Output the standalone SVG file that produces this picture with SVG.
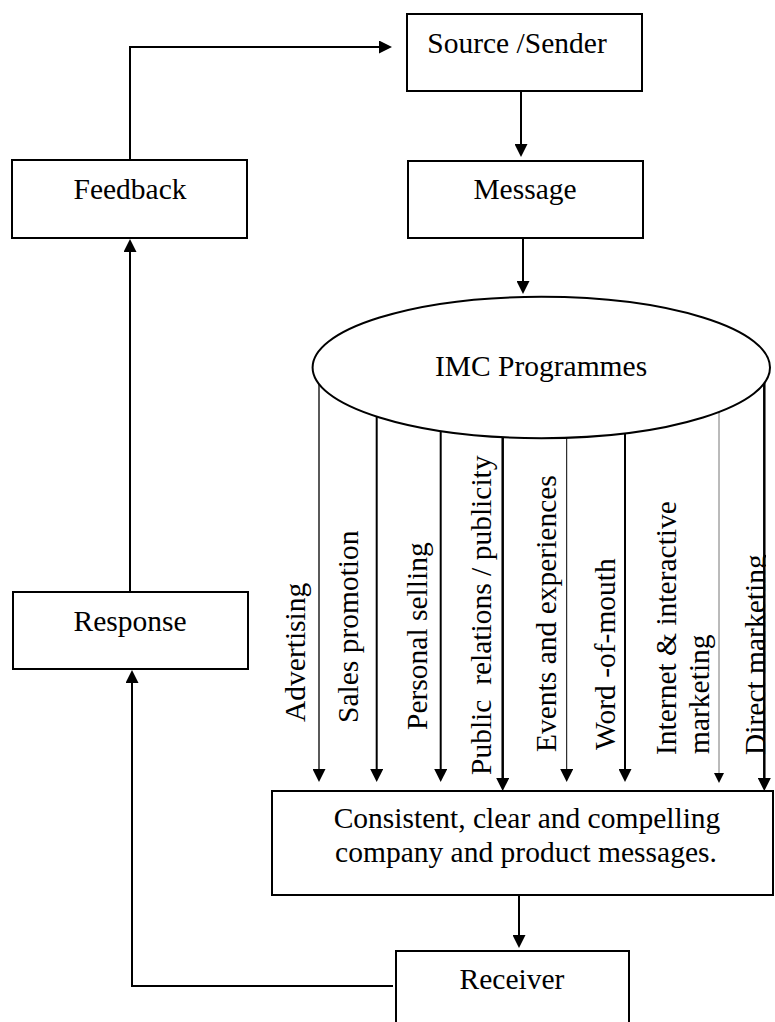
<svg xmlns="http://www.w3.org/2000/svg" width="775" height="1022" viewBox="0 0 775 1022">
<style>
.box{fill:#fff;stroke:#000;stroke-width:2}
.t{font-family:"Liberation Serif","Times New Roman",serif;font-size:29.5px;fill:#000}
.c{text-anchor:middle}
.ln{fill:none;stroke:#000;stroke-width:2}
</style>
<defs>
<marker id="ah" viewBox="0 0 13 13" refX="9" refY="6.5" markerWidth="13" markerHeight="13" markerUnits="userSpaceOnUse" orient="auto"><path d="M0,0 L13,6.5 L0,13 z" fill="#000"/></marker>
<marker id="ahs" viewBox="0 0 10 10" refX="7" refY="5" markerWidth="10" markerHeight="10" markerUnits="userSpaceOnUse" orient="auto"><path d="M0,0 L10,5 L0,10 z" fill="#000"/></marker>
<clipPath id="clipDM"><rect x="700" y="500" width="66" height="300"/></clipPath>
</defs>
<rect width="775" height="1022" fill="#fff"/>
<g id="connectors">
<path class="ln" d="M130,160 V47 H388" marker-end="url(#ah)"/>
<path class="ln" d="M521,91 V153" marker-end="url(#ah)"/>
<path class="ln" d="M523,238 V290" marker-end="url(#ah)"/>
<path class="ln" d="M130,592 V243" marker-end="url(#ah)"/>
<path class="ln" d="M393,986 H132 V674" marker-end="url(#ah)"/>
<path class="ln" d="M519,895 V944" marker-end="url(#ah)"/>
<path class="ln" style="stroke-width:1.3" d="M319,384 V778" marker-end="url(#ah)"/>
<path class="ln" d="M376.7,416.6 V778" marker-end="url(#ah)"/>
<path class="ln" d="M440.7,431 V778" marker-end="url(#ah)"/>
<path class="ln" style="stroke-width:2.5" d="M502.7,437 V787" marker-end="url(#ah)"/>
<path class="ln" style="stroke-width:1" d="M566.7,437.5 V778" marker-end="url(#ah)"/>
<path class="ln" d="M625,433 V778" marker-end="url(#ah)"/>
<path class="ln" style="stroke-width:1;stroke:#777" d="M719,412 V780" marker-end="url(#ahs)"/>
<path class="ln" style="stroke-width:2.5" d="M764.3,383 V787" marker-end="url(#ah)"/>
</g>
<g id="source"><rect class="box" x="407" y="14" width="235" height="77"/><text class="t c" x="517" y="53">Source /Sender</text></g>
<g id="message"><rect class="box" x="408" y="161" width="235" height="77"/><text class="t c" x="525" y="199">Message</text></g>
<g id="feedback"><rect class="box" x="12" y="160" width="235" height="78"/><text class="t c" x="130" y="199">Feedback</text></g>
<g id="imc"><ellipse cx="541.3" cy="367.5" rx="228.7" ry="70.7" fill="#fff" stroke="#000" stroke-width="2"/><text class="t c" x="541" y="376">IMC Programmes</text></g>
<g id="response"><rect class="box" x="13" y="592" width="235" height="77"/><text class="t c" x="130" y="631">Response</text></g>
<g id="labels">
<text class="t" transform="translate(305,722) rotate(-90)">Advertising</text>
<text class="t" transform="translate(358,723) rotate(-90)">Sales promotion</text>
<text class="t" transform="translate(427,730) rotate(-90)">Personal selling</text>
<text class="t" style="white-space:pre" transform="translate(491,775) rotate(-90)">Public  relations / publicity</text>
<text class="t" transform="translate(556,752) rotate(-90)">Events and experiences</text>
<text class="t" transform="translate(615,750) rotate(-90)">Word -of-mouth</text>
<text class="t" transform="translate(676,755) rotate(-90)">Internet &amp; interactive</text>
<text class="t" transform="translate(709,754) rotate(-90)">marketing</text>
<g clip-path="url(#clipDM)"><text class="t" transform="translate(765,755) rotate(-90)">Direct marketing</text></g>
</g>
<g id="messages"><rect class="box" x="272" y="791" width="501" height="104"/><text class="t c" x="527" y="828">Consistent, clear and compelling</text><text class="t c" x="526" y="862">company and product messages.</text></g>
<g id="receiver"><rect class="box" x="396" y="951" width="233" height="90"/><text class="t c" x="512" y="989">Receiver</text></g>
</svg>
